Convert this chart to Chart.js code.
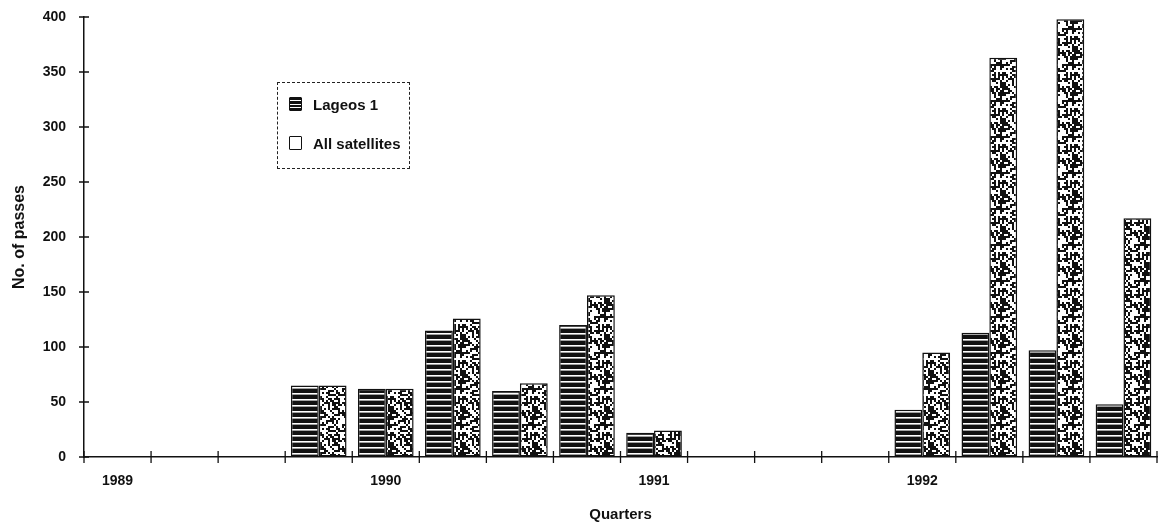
<!DOCTYPE html>
<html><head><meta charset="utf-8">
<script src="https://cdn.jsdelivr.net/npm/chart.js@4"></script>
<style>
html,body{margin:0;padding:0;background:#fff;}
#wrap{position:relative;width:1171px;height:526px;}
#legend{position:absolute;left:277px;top:82px;width:133px;height:87px;border:1px dashed #222;box-sizing:border-box;font:bold 15px "Liberation Sans",Arial,sans-serif;color:#111;}
.item{position:absolute;left:11px;display:flex;align-items:center;height:16px;}
.sw{width:11px;height:12px;border:1.5px solid #111;margin-right:11px;border-radius:1px;}
.sw.stripe{background:repeating-linear-gradient(to bottom,#111 0px,#111 2.5px,#fff 2.5px,#fff 3.5px);}
.sw.blank{background:#fff;}
</style></head>
<body>
<div id="wrap">
<canvas id="c" width="1171" height="526"></canvas>
<div id="legend">
  <div class="item" style="top:13px"><span class="sw stripe"></span><span>Lageos 1</span></div>
  <div class="item" style="top:52px"><span class="sw blank"></span><span>All satellites</span></div>
</div>
</div>
<script>
// ---- data ----
const quarters = ['1989 Q1','1989 Q2','1989 Q3','1989 Q4','1990 Q1','1990 Q2','1990 Q3','1990 Q4',
                  '1991 Q1','1991 Q2','1991 Q3','1991 Q4','1992 Q1','1992 Q2','1992 Q3','1992 Q4'];
const tickLabels = ['1989','','','','1990','','','','1991','','','','1992','','',''];
const lageos1 = [0,0,0,65,62,115,60,120,22,0,0,0,43,113,97,48];
const allSatellites = [0,0,0,65,62,126,67,147,24,0,0,0,95,363,398,217];
const yTicks = [0,50,100,150,200,250,300,350,400];

// ---- patterns ----
function stripePattern(){
  const c=document.createElement('canvas'); c.width=8; c.height=6;
  const g=c.getContext('2d');
  g.fillStyle='#111'; g.fillRect(0,0,8,6);
  g.fillStyle='#fff'; g.fillRect(0,3,8,1.6);
  return g.createPattern(c,'repeat');
}
function specklePattern(){
  const c=document.createElement('canvas'); c.width=36; c.height=36;
  const g=c.getContext('2d');
  g.fillStyle='#fff'; g.fillRect(0,0,36,36);
  let s=12345;
  const rnd=()=>{s=(s*1103515245+12345)&0x7fffffff;return s/0x7fffffff;};
  g.fillStyle='#111';
  for(let y=0;y<36;y+=2){for(let x=0;x<36;x+=2){ if(rnd()<0.52) g.fillRect(x,y,2,2); }}
  return g.createPattern(c,'repeat');
}

const FONT = '"Liberation Sans", Arial, sans-serif';

const crossTicks = {
  id:'crossTicks',
  afterDraw(chart){
    const {ctx, scales:{x,y}} = chart;
    ctx.save();
    ctx.strokeStyle='#111'; ctx.lineWidth=1.3;
    ctx.beginPath();
    yTicks.forEach(v=>{ const py=y.getPixelForValue(v); ctx.moveTo(x.left-5,py); ctx.lineTo(x.left+5,py); });
    const n = quarters.length;
    for(let i=0;i<=n;i++){
      const px = x.left + (x.right-x.left)*i/n;
      ctx.moveTo(px,y.bottom-6); ctx.lineTo(px,y.bottom+6);
    }
    ctx.stroke();
    ctx.restore();
  }
};

new Chart(document.getElementById('c'),{
  type:'bar',
  data:{
    labels:quarters,
    datasets:[
      {label:'Lageos 1', data:lageos1, backgroundColor:stripePattern(), borderColor:'#111', borderWidth:1.5, borderSkipped:false,
       categoryPercentage:0.83, barPercentage:1},
      {label:'All satellites', data:allSatellites, backgroundColor:specklePattern(), borderColor:'#111', borderWidth:1.5, borderSkipped:false,
       categoryPercentage:0.83, barPercentage:1}
    ]
  },
  options:{
    responsive:false, animation:false, devicePixelRatio:1,
    layout:{padding:{left:0,right:14,top:17,bottom:0}},
    plugins:{legend:{display:false}, tooltip:{enabled:false}},
    scales:{
      x:{
        grid:{display:true,drawOnChartArea:false,drawTicks:true,tickLength:16,tickColor:'rgba(0,0,0,0)'},
        border:{display:true,color:'#111',width:1.5},
        ticks:{autoSkip:false,maxRotation:0,padding:0,color:'#111',font:{family:FONT,size:14,weight:'bold'},
               callback:(v,i)=>tickLabels[i]},
        title:{display:true,text:'Quarters',color:'#111',font:{family:FONT,size:15,weight:'bold'},padding:{top:0,bottom:2}},
        afterFit:(s)=>{s.height=69;}
      },
      y:{
        min:0,max:400,
        grid:{display:true,drawOnChartArea:false,drawTicks:true,tickLength:18,tickColor:'rgba(0,0,0,0)'},
        border:{display:true,color:'#111',width:1.5},
        ticks:{stepSize:50,padding:0,color:'#111',font:{family:FONT,size:14,weight:'bold'}},
        title:{display:true,text:'No. of passes',color:'#111',font:{family:FONT,size:16,weight:'bold'},padding:{top:10,bottom:0}},
        afterFit:(s)=>{s.width=84;}
      }
    }
  },
  plugins:[crossTicks]
});
</script>
</body></html>
